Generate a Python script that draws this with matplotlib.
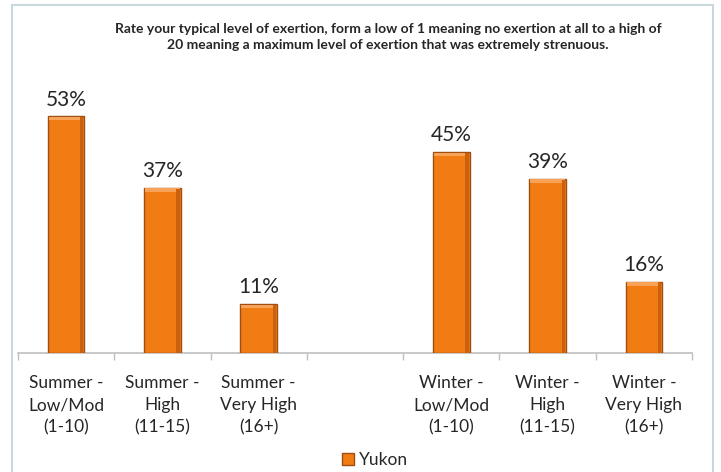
import matplotlib
matplotlib.use("Agg")
import matplotlib.pyplot as plt
from matplotlib.patches import Rectangle

plt.rcParams['font.family'] = ['Lato', 'DejaVu Sans']

categories = ["Summer -\nLow/Mod\n(1-10)", "Summer -\nHigh\n(11-15)", "Summer -\nVery High\n(16+)", "",
              "Winter -\nLow/Mod\n(1-10)", "Winter -\nHigh\n(11-15)", "Winter -\nVery High\n(16+)"]
values = [53, 37, 11, None, 45, 39, 16]
title = ("Rate your typical level of exertion, form a low of 1 meaning no exertion at all to a high of\n"
         "20 meaning a maximum level of exertion that was extremely strenuous.")

fig = plt.figure(figsize=(7.21, 4.72), dpi=100)
fig.patch.set_facecolor("white")

# frame around the chart area
fig.add_artist(Rectangle((12 / 721, -0.02), 701 / 721, 1 - 5 / 472 + 0.02,
                         transform=fig.transFigure, fill=False,
                         edgecolor="#C9D8DD", linewidth=1.5))

ax = fig.add_axes([18 / 721, 1 - 353 / 472, 674 / 721, (353 - 85) / 472])
xs = [i for i, v in enumerate(values) if v is not None]
vals = [v for v in values if v is not None]
bars = ax.bar(xs, vals, width=0.38, color="#F27C14", edgecolor="#9E4E12",
              linewidth=1.0, label="Yukon", zorder=3)
for b, v in zip(bars, vals):
    x0, w = b.get_x(), b.get_width()
    # bevel: light top band, darker right side
    ax.add_patch(Rectangle((x0 + 0.01, v - 0.9), w - 0.02, 0.75,
                           color="#F8A257", linewidth=0, zorder=4))
    ax.add_patch(Rectangle((x0 + w - 0.045, 0.1), 0.035, v - 0.3,
                           color="#C9610F", linewidth=0, zorder=4))
    ax.text(x0 + w / 2, v + 1.5, f"{v}%", ha="center",
            va="bottom", fontsize=15, color="#262626")

ax.set_xlim(-0.5, 6.5)
ax.set_ylim(0, 60)
ax.set_yticks([])
ax.set_xticks(range(len(categories)))
ax.set_xticklabels(categories, fontsize=12.5, color="#262626", linespacing=1.45)
ax.set_xticks([i - 0.5 for i in range(len(categories) + 1)], minor=True)
ax.tick_params(axis="x", which="major", length=0, pad=16)
ax.tick_params(axis="x", which="minor", length=5, color="#BFBFBF", width=1)
for s in ["top", "right", "left"]:
    ax.spines[s].set_visible(False)
ax.spines["bottom"].set_color("#BFBFBF")
ax.spines["bottom"].set_linewidth(1.2)

fig.text(388 / 721, 1 - 37 / 472, title, ha="center", va="center",
         fontsize=10, fontweight="bold", color="#262626", linespacing=1.45)

leg = fig.legend(handles=[bars], labels=["Yukon"], loc="center",
                 bbox_to_anchor=(375 / 721, 1 - 460 / 472), frameon=False,
                 fontsize=12.5, handlelength=0.7, handleheight=0.7,
                 handletextpad=0.3)
for t in leg.get_texts():
    t.set_color("#262626")

fig.savefig("out.png", dpi=100, facecolor="white")
